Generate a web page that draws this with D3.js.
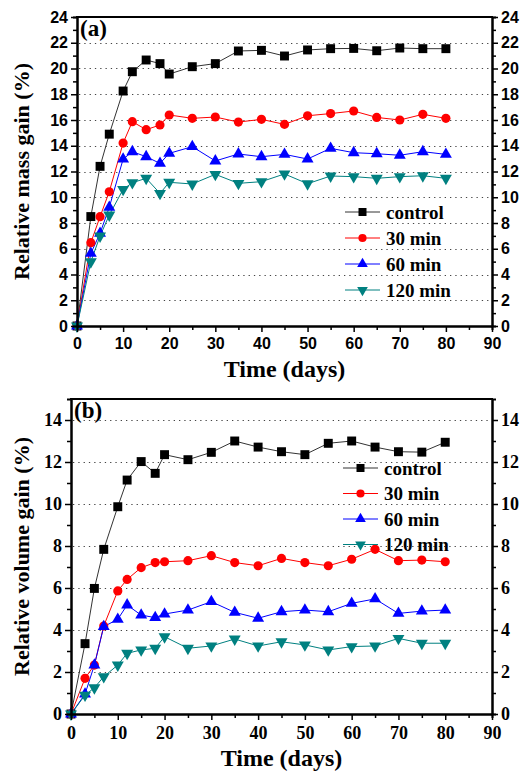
<!DOCTYPE html>
<html>
<head>
<meta charset="utf-8">
<script src="https://cdn.jsdelivr.net/npm/d3@7"></script>
<style>
  html, body { margin: 0; padding: 0; background: #fff; }
</style>
</head>
<body>
<div id="chart"></div>
<script>
// Sampling days shared by both panels.
const days = [0, 3, 5, 7, 10, 12, 15, 18, 20, 25, 30, 35, 40, 45, 50, 55, 60, 65, 70, 75, 80];

// Panel (a): relative mass gain (%).
const massControl = [0, 8.5, 12.4, 14.9, 18.25, 19.75, 20.66, 20.38, 19.57, 20.14, 20.38, 21.36, 21.41, 20.97, 21.44, 21.54, 21.56, 21.38, 21.59, 21.54, 21.54];
const mass30 = [0, 6.47, 8.49, 10.43, 14.21, 15.87, 15.25, 15.61, 16.39, 16.13, 16.23, 15.84, 16.05, 15.66, 16.33, 16.5, 16.7, 16.2, 16.0, 16.44, 16.13];
const mass60 = [0, 5.64, 7.2, 9.22, 12.96, 13.54, 13.15, 12.63, 13.41, 13.93, 12.82, 13.36, 13.15, 13.33, 12.97, 13.8, 13.46, 13.38, 13.26, 13.54, 13.33];
const mass120 = [0, 4.99, 6.99, 8.62, 10.61, 11.13, 11.47, 10.3, 11.16, 11.03, 11.78, 11.08, 11.21, 11.81, 11.05, 11.65, 11.6, 11.47, 11.6, 11.67, 11.47];

// Panel (b): relative volume gain (%).
const volControl = [0, 3.35, 5.98, 7.84, 9.87, 11.14, 12.02, 11.46, 12.35, 12.11, 12.46, 13.0, 12.71, 12.49, 12.35, 12.89, 13.0, 12.71, 12.49, 12.47, 12.94];
const vol30 = [0, 1.7, 2.33, 4.19, 5.86, 6.41, 6.97, 7.21, 7.25, 7.3, 7.54, 7.21, 7.06, 7.41, 7.21, 7.06, 7.37, 7.84, 7.3, 7.33, 7.25];
const vol60 = [0, 0.95, 2.33, 4.16, 4.51, 5.19, 4.71, 4.59, 4.76, 4.95, 5.35, 4.84, 4.56, 4.87, 4.95, 4.87, 5.27, 5.48, 4.79, 4.9, 4.95];
const vol120 = [0, 0.9, 1.25, 1.78, 2.33, 2.89, 3.05, 3.13, 3.68, 3.13, 3.24, 3.57, 3.24, 3.44, 3.29, 3.05, 3.21, 3.24, 3.6, 3.37, 3.37];

const seriesNames = ["control", "30 min", "60 min", "120 min"];
const xTicks = [0, 10, 20, 30, 40, 50, 60, 70, 80, 90];
const massTicks = [0, 2, 4, 6, 8, 10, 12, 14, 16, 18, 20, 22, 24];
const volTicks = [0, 2, 4, 6, 8, 10, 12, 14];

const width = 525;
const height = 776;
const sans = "'Liberation Sans', Arial, sans-serif";
const serif = "'Liberation Serif', 'Times New Roman', serif";

const styles = [
    {color: "#000000", line: "#333333", symbol: d3.symbolSquare, size: 80, rotate: 0},
    {color: "#ff0000", line: "#ff0000", symbol: d3.symbolCircle, size: 66, rotate: 0},
    {color: "#0000ff", line: "#0000ff", symbol: d3.symbolTriangle, size: 62, rotate: 0},
    {color: "#008080", line: "#008080", symbol: d3.symbolTriangle, size: 62, rotate: 180}
];

const svg = d3.select("#chart")
    .append("svg")
    .attr("width", width)
    .attr("height", height)
    .attr("viewBox", [0, 0, width, height]);

function drawPanel(p) {
    const x = d3.scaleLinear().domain([0, 90]).range([p.left, p.right]);
    const y = d3.scaleLinear().domain([0, p.yMax]).range([p.bottom, p.top]);
    const g = svg.append("g");

    // Dotted horizontal grid at the major ticks.
    g.append("g")
        .attr("stroke", "#444")
        .attr("stroke-width", 1)
        .attr("stroke-dasharray", "1.3,4")
        .selectAll("line")
        .data(p.yTicks.filter(v => v > 0 && v < p.yMax))
        .join("line")
            .attr("x1", p.left + 2)
            .attr("x2", p.right - 2)
            .attr("y1", d => Math.round(y(d)) + 0.5)
            .attr("y2", d => Math.round(y(d)) + 0.5);

    // Lines and markers.
    const line = d3.line().x((d, i) => x(days[i])).y(d => y(d));
    p.series.forEach((values, k) => {
        const s = styles[k];
        g.append("path")
            .attr("fill", "none")
            .attr("stroke", s.line)
            .attr("stroke-width", 1)
            .attr("d", line(values));
    });
    p.series.forEach((values, k) => {
        const s = styles[k];
        g.append("g")
            .attr("fill", s.color)
            .selectAll("path")
            .data(values)
            .join("path")
                .attr("transform", (d, i) => `translate(${x(days[i])},${y(d)}) rotate(${s.rotate})`)
                .attr("d", d3.symbol(s.symbol, s.size));
    });

    // Axes.
    const axisStyle = sel => {
        sel.select(".domain").attr("stroke-width", 2);
        sel.selectAll(".tick line").attr("stroke-width", 1.5);
        sel.selectAll("text")
            .attr("font-family", p.tickFont)
            .attr("font-weight", "bold")
            .attr("font-size", p.tickSize)
            .attr("fill", "#000");
    };
    const yMinor = d3.range(1, p.yMax, 2);
    const xMinor = d3.range(5, 90, 10);

    // Minor ticks first, majors on top.
    g.append("g").attr("transform", `translate(0,${p.bottom})`)
        .call(d3.axisBottom(x).tickValues(xMinor).tickSize(4).tickFormat(""))
        .call(axisStyle);
    g.append("g").attr("transform", `translate(${p.left},0)`)
        .call(d3.axisLeft(y).tickValues(yMinor).tickSize(4).tickFormat(""))
        .call(axisStyle);
    g.append("g").attr("transform", `translate(${p.right},0)`)
        .call(d3.axisRight(y).tickValues(yMinor).tickSize(4).tickFormat(""))
        .call(axisStyle);

    g.append("g").attr("transform", `translate(0,${p.bottom})`)
        .call(d3.axisBottom(x).tickValues(xTicks).tickSize(6).tickPadding(6).tickSizeOuter(0))
        .call(axisStyle);
    g.append("g").attr("transform", `translate(${p.left},0)`)
        .call(d3.axisLeft(y).tickValues(p.yTicks).tickSize(6).tickPadding(3).tickSizeOuter(0))
        .call(axisStyle);
    g.append("g").attr("transform", `translate(${p.right},0)`)
        .call(d3.axisRight(y).tickValues(p.yTicks).tickSize(6).tickPadding(3).tickSizeOuter(0))
        .call(axisStyle);

    // Top frame line.
    g.append("line")
        .attr("x1", p.left - 1).attr("x2", p.right + 1)
        .attr("y1", p.top).attr("y2", p.top)
        .attr("stroke", "#000").attr("stroke-width", 2);

    // Panel letter.
    g.append("text")
        .attr("x", p.left + 3)
        .attr("y", p.top + 19)
        .attr("font-family", serif)
        .attr("font-weight", "bold")
        .attr("font-size", 23)
        .text(p.letter);

    // Axis titles.
    g.append("text")
        .attr("transform", `translate(${p.titleX},${(p.top + p.bottom) / 2}) rotate(-90)`)
        .attr("text-anchor", "middle")
        .attr("font-family", serif)
        .attr("font-weight", "bold")
        .attr("font-size", 22)
        .text(p.yTitle);
    g.append("text")
        .attr("x", (p.left + p.right) / 2)
        .attr("y", p.xTitleY)
        .attr("text-anchor", "middle")
        .attr("font-family", serif)
        .attr("font-weight", "bold")
        .attr("font-size", 24)
        .text("Time (days)");

    // Legend.
    const legend = g.append("g")
        .selectAll("g")
        .data(seriesNames)
        .join("g")
            .attr("transform", (d, i) => `translate(${p.legendX},${p.legendY + i * p.legendStep})`);
    legend.append("line")
        .attr("x1", 0).attr("x2", 35)
        .attr("stroke", (d, i) => styles[i].line)
        .attr("stroke-width", 1);
    legend.append("path")
        .attr("transform", (d, i) => `translate(17.5,0) rotate(${styles[i].rotate})`)
        .attr("fill", (d, i) => styles[i].color)
        .attr("d", (d, i) => d3.symbol(styles[i].symbol, styles[i].size * 0.8)());
    legend.append("text")
        .attr("x", 41)
        .attr("dy", "0.35em")
        .attr("font-family", serif)
        .attr("font-weight", "bold")
        .attr("font-size", 19)
        .text(d => d);
}

drawPanel({
    left: 77, right: 492, top: 17, bottom: 326, yMax: 24,
    yTicks: massTicks,
    series: [massControl, mass30, mass60, mass120],
    tickFont: sans, tickSize: 16,
    letter: "(a)",
    yTitle: "Relative mass gain (%)", titleX: 29, xTitleY: 377,
    legendX: 345, legendY: 212, legendStep: 26
});

drawPanel({
    left: 71, right: 492, top: 399, bottom: 714, yMax: 15,
    yTicks: volTicks,
    series: [volControl, vol30, vol60, vol120],
    tickFont: serif, tickSize: 18,
    letter: "(b)",
    yTitle: "Relative volume gain (%)", titleX: 29, xTitleY: 766,
    legendX: 343, legendY: 468, legendStep: 25.5
});
</script>
</body>
</html>
